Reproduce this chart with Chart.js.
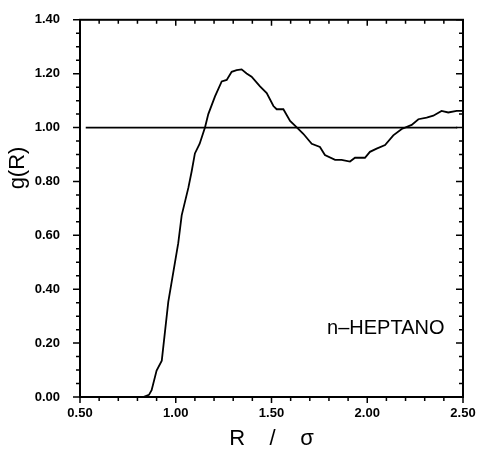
<!DOCTYPE html>
<html>
<head>
<meta charset="utf-8">
<script src="https://cdn.jsdelivr.net/npm/chart.js@4"></script>
<style>
  html, body { margin: 0; padding: 0; background: #fff; }
  #wrap { width: 480px; height: 452px; }
</style>
</head>
<body>
<div id="wrap"><canvas id="gr"></canvas></div>
<script>
// g(R) curve
const rValues = [0.50, 0.70, 0.83, 0.86, 0.874, 0.90, 0.927, 0.961, 1.013, 1.031, 1.066, 1.083, 1.10, 1.125,
  1.153, 1.17, 1.205, 1.24, 1.266, 1.292, 1.318, 1.344, 1.37, 1.396, 1.44, 1.475, 1.51, 1.527, 1.562,
  1.597, 1.632, 1.666, 1.71, 1.753, 1.779, 1.832, 1.866, 1.91, 1.936, 1.988, 2.014, 2.049, 2.093, 2.136,
  2.18, 2.232, 2.267, 2.31, 2.345, 2.388, 2.423, 2.467, 2.50];
const gValues = [0.00, 0.00, 0.00, 0.008, 0.025, 0.098, 0.135, 0.353, 0.571, 0.674, 0.777, 0.837, 0.904, 0.94,
  1.001, 1.05, 1.116, 1.171, 1.177, 1.207, 1.213, 1.216, 1.201, 1.189, 1.153, 1.128, 1.08, 1.068, 1.068,
  1.025, 1.001, 0.977, 0.94, 0.928, 0.898, 0.88, 0.88, 0.874, 0.888, 0.888, 0.91, 0.922, 0.935, 0.971,
  0.995, 1.01, 1.031, 1.037, 1.044, 1.062, 1.056, 1.062, 1.062];

// reference line g = 1
const refX = [0.53, 2.47];
const refY = [1.00, 1.00];

const xMin = 0.5, xMax = 2.5, xStep = 0.1;
const yMin = 0, yMax = 1.4, yStep = 0.05;
const label = 'n\u2013HEPTANO';
const labelAt = { x: 1.79, y: 0.255 };
const yTitle = 'g(R)';
const yTitleAt = 0.85;

const toPts = (xs, ys) => xs.map((x, i) => ({ x: x, y: ys[i] }));
const FONT = '"Liberation Sans", Arial, sans-serif';

// draws the box, tick marks (outward left/bottom, inward top/right) and texts
const frame = {
  id: 'frame',
  afterDraw(chart) {
    const c = chart.ctx, a = chart.chartArea;
    const sx = chart.scales.x, sy = chart.scales.y;
    c.save();
    c.strokeStyle = '#000';
    c.lineWidth = 2;
    c.strokeRect(a.left, a.top, a.right - a.left, a.bottom - a.top);
    c.lineWidth = 1.5;
    c.beginPath();
    sx.ticks.forEach(t => {
      const px = sx.getPixelForValue(t.value);
      const major = Math.round(t.value * 100) % 50 === 0;
      const len = major ? 6 : 4;
      c.moveTo(px, a.bottom); c.lineTo(px, a.bottom + len);
      c.moveTo(px, a.top); c.lineTo(px, a.top + len);
    });
    sy.ticks.forEach(t => {
      const py = sy.getPixelForValue(t.value);
      const major = Math.round(t.value * 100) % 20 === 0;
      const len = major ? 7 : 4;
      c.moveTo(a.left - len, py); c.lineTo(a.left, py);
      c.moveTo(a.right, py); c.lineTo(a.right - len, py);
    });
    c.stroke();
    c.fillStyle = '#000';
    c.font = '20px ' + FONT;
    c.textBaseline = 'middle';
    c.fillText(label, sx.getPixelForValue(labelAt.x), sy.getPixelForValue(labelAt.y));
    // y axis title
    c.font = '22px ' + FONT;
    c.translate(18, sy.getPixelForValue(yTitleAt));
    c.rotate(-Math.PI / 2);
    c.textAlign = 'center';
    c.fillText(yTitle, 0, 0);
    c.restore();
  }
};

new Chart(document.getElementById('gr'), {
  type: 'scatter',
  data: {
    datasets: [
      {
        data: toPts(rValues, gValues),
        showLine: true,
        borderColor: '#000',
        borderWidth: 1.8,
        pointRadius: 0,
        tension: 0
      },
      {
        data: toPts(refX, refY),
        showLine: true,
        borderColor: '#000',
        borderWidth: 1.8,
        pointRadius: 0
      }
    ]
  },
  options: {
    responsive: true,
    maintainAspectRatio: false,
    animation: false,
    layout: { padding: { top: 12, right: 17, left: 0, bottom: 0 } },
    plugins: { legend: { display: false }, tooltip: { enabled: false } },
    scales: {
      x: {
        type: 'linear',
        min: xMin, max: xMax,
        grid: { display: false },
        border: { display: false },
        afterFit: s => { s.height = 55; },
        ticks: {
          stepSize: xStep,
          autoSkip: false,
          maxRotation: 0,
          padding: 1,
          color: '#000',
          font: { family: FONT, size: 13, weight: 'bold' },
          callback: v => Math.round(v * 100) % 50 === 0 ? v.toFixed(2) : ''
        },
        title: {
          display: true,
          text: 'R    /    \u03c3',
          color: '#000',
          font: { family: FONT, size: 22 },
          padding: { top: 0, bottom: 0 }
        }
      },
      y: {
        type: 'linear',
        min: yMin, max: yMax,
        grid: { display: false },
        border: { display: false },
        afterFit: s => { s.width = 80; },
        ticks: {
          stepSize: yStep,
          autoSkip: false,
          padding: 12,
          color: '#000',
          font: { family: FONT, size: 13, weight: 'bold' },
          callback: v => Math.round(v * 100) % 20 === 0 ? v.toFixed(2) : ''
        }
      }
    }
  },
  plugins: [frame]
});
</script>
</body>
</html>
